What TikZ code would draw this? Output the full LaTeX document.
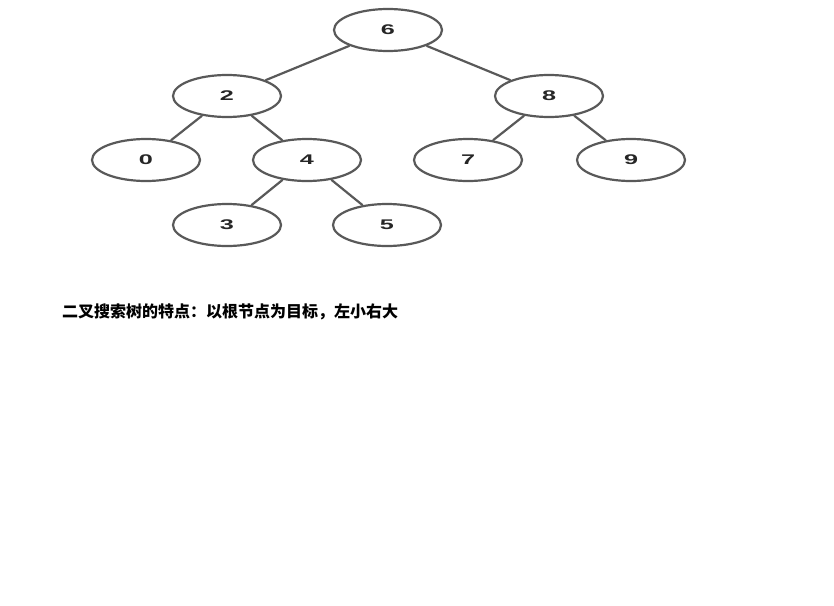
\documentclass[tikz,border=0pt]{standalone}
\usepackage{fontspec}
\setmainfont{Liberation Sans}
\newfontfamily\cjk{Noto Sans CJK SC}
\usetikzlibrary{shapes.geometric}
\newcommand{\wdigit}[1]{\scalebox{1.8}[1]{#1}}
\begin{document}
\begin{tikzpicture}[x=1pt,y=-1pt,
  treenode/.style={draw=black!65,line width=2.2pt,ellipse,minimum width=108pt,minimum height=42pt,inner sep=0pt,font=\fontsize{14}{14}\selectfont\bfseries,text=black!85},
  treeedge/.style={draw=black!65,line width=2.2pt}]
\useasboundingbox (0,0) rectangle (834,605);
\node[treenode] (n6) at (388,30) {\wdigit{6}};
\node[treenode] (n2) at (227,96) {\wdigit{2}};
\node[treenode] (n8) at (549,96) {\wdigit{8}};
\node[treenode] (n0) at (146,160) {\wdigit{0}};
\node[treenode] (n4) at (307,160) {\wdigit{4}};
\node[treenode] (n7) at (468,160) {\wdigit{7}};
\node[treenode] (n9) at (631,160) {\wdigit{9}};
\node[treenode] (n3) at (227,225) {\wdigit{3}};
\node[treenode] (n5) at (387,225) {\wdigit{5}};
\draw[treeedge] (n6) -- (n2);
\draw[treeedge] (n6) -- (n8);
\draw[treeedge] (n2) -- (n0);
\draw[treeedge] (n2) -- (n4);
\draw[treeedge] (n8) -- (n7);
\draw[treeedge] (n8) -- (n9);
\draw[treeedge] (n4) -- (n3);
\draw[treeedge] (n4) -- (n5);
\node[anchor=west,inner sep=0pt,font=\cjk\bfseries\fontsize{16}{16}\selectfont] (cap) at (62,312) {二叉搜索树的特点：以根节点为目标，左小右大};
\end{tikzpicture}
\end{document}
